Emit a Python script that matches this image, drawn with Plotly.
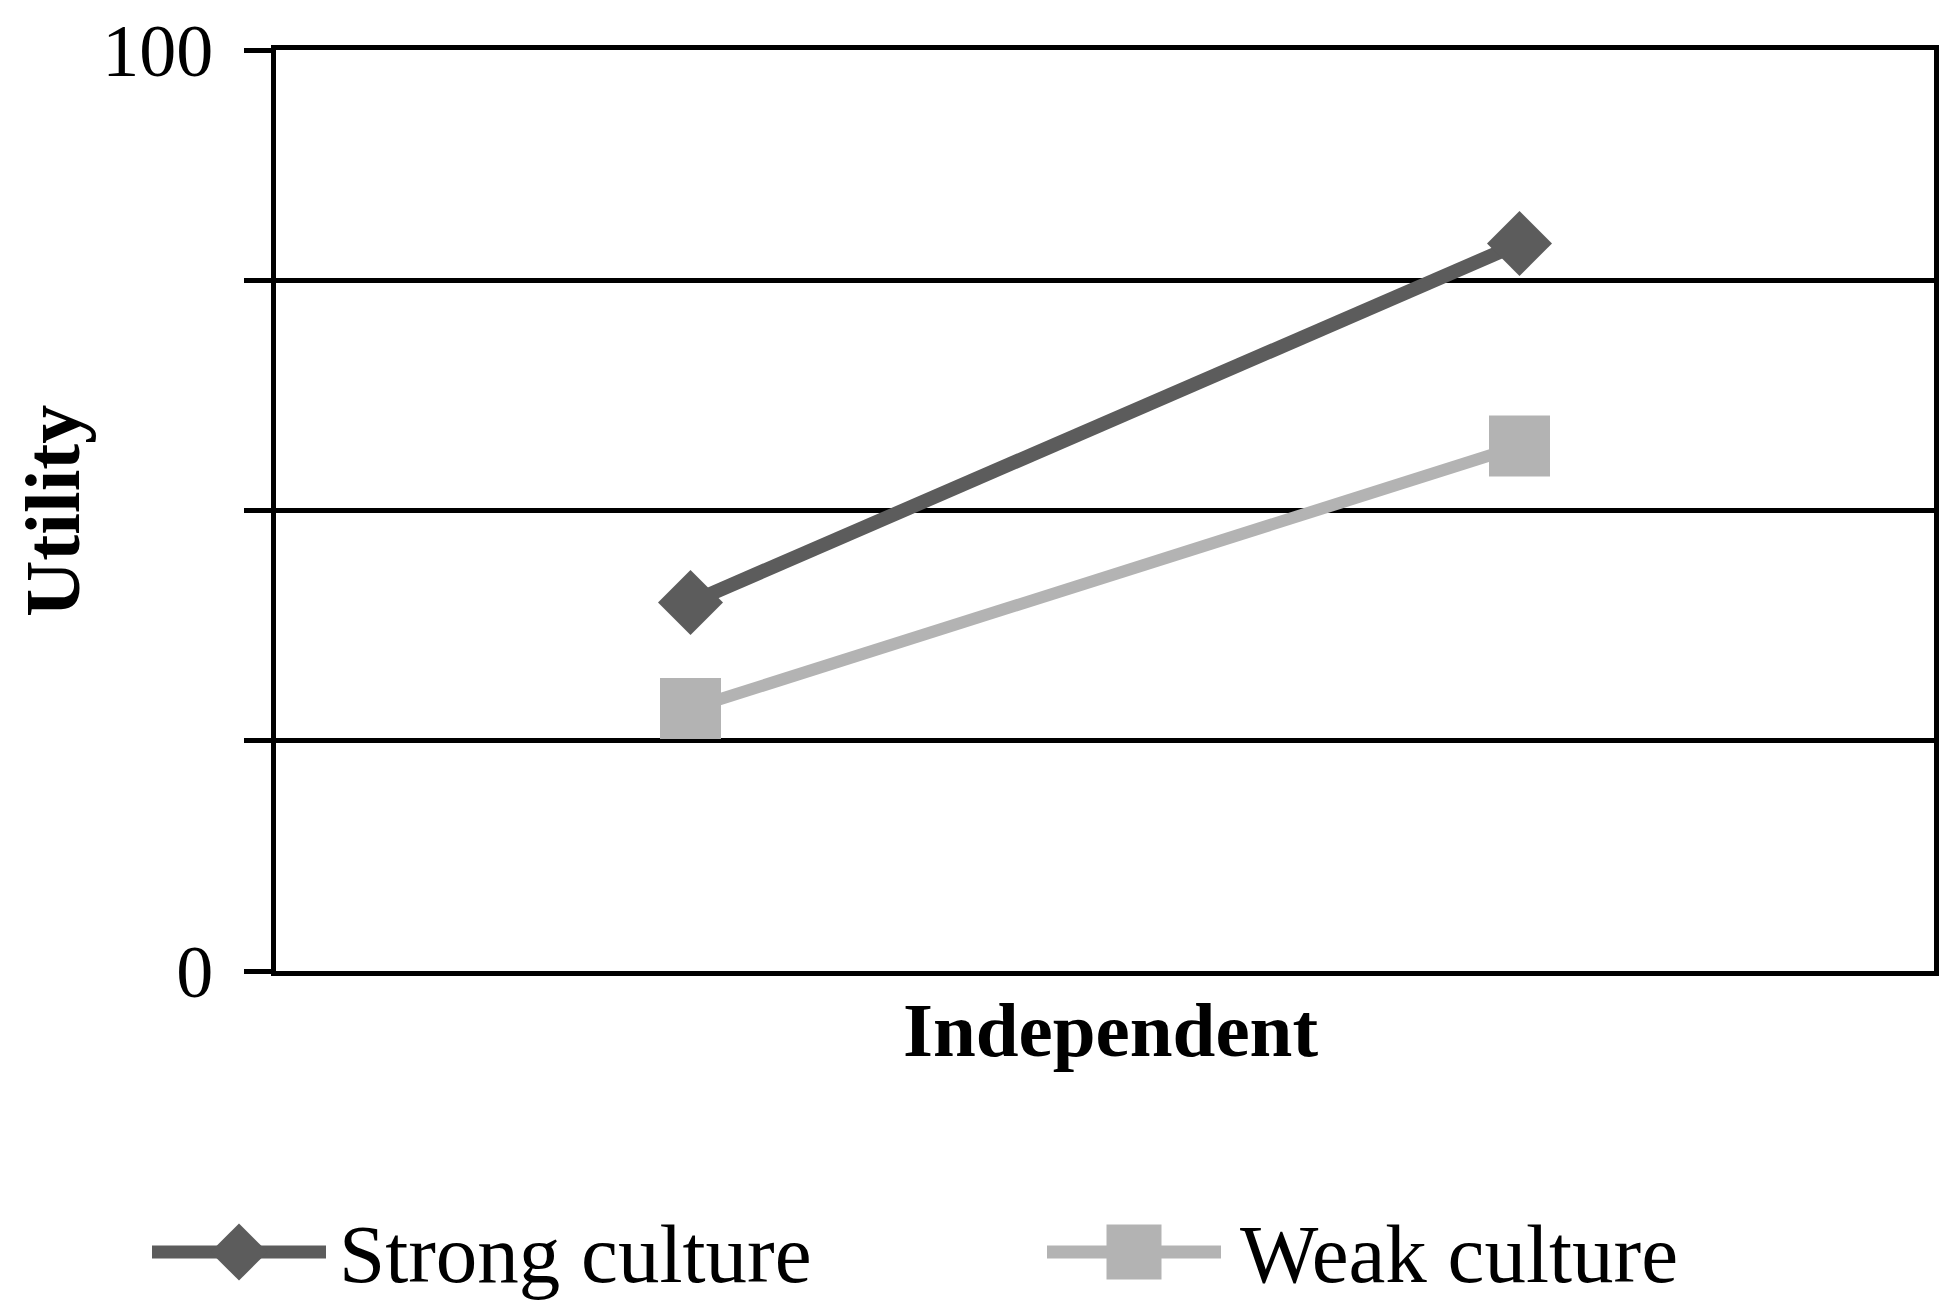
import plotly.graph_objects as go

# ---- data ----
categories = ["Low", "High"]
strong_culture = [40, 79]
weak_culture = [28.5, 57]
y_tickvals = [0, 25, 50, 75, 100]
y_ticktext = ["0", "", "", "", "100"]
series_names = ["Strong culture", "Weak culture"]

W, H = 1954, 1315
OFF = 8  # page body margin
STRONG = "#5c5c5c"
WEAK = "#b3b3b3"
FONT = "Liberation Serif, Times New Roman, serif"

def px_x(p):
    return (p - OFF) / W

def px_y(p):
    return 1 - (p - OFF) / H

plot_l, plot_r, plot_t, plot_b = 276, 1934, 50, 971
leg_top = 1160  # top of legend band (px)

fig = go.Figure()
fig.add_trace(go.Scatter(
    x=categories, y=strong_culture, mode="lines+markers", name=series_names[0],
    line=dict(color=STRONG, width=14),
    marker=dict(symbol="diamond", size=50, color=STRONG),
    showlegend=False, xaxis="x", yaxis="y"))
fig.add_trace(go.Scatter(
    x=categories, y=weak_culture, mode="lines+markers", name=series_names[1],
    line=dict(color=WEAK, width=12),
    marker=dict(symbol="square", size=61, color=WEAK),
    showlegend=False, xaxis="x", yaxis="y"))

# ---- custom legend drawn on an overlay axis in pixel units ----
legend_items = [
    dict(name=series_names[0], color=STRONG, symbol="diamond", size=44, x0=152, x1=326, tx=337),
    dict(name=series_names[1], color=WEAK, symbol="square", size=55, x0=1047, x1=1221, tx=1238),
]
ly = 1252
for it in legend_items:
    fig.add_trace(go.Scatter(
        x=[it["x0"] - OFF, it["x1"] - OFF], y=[ly - OFF, ly - OFF], mode="lines",
        line=dict(color=it["color"], width=13), showlegend=False,
        xaxis="x2", yaxis="y2", hoverinfo="skip"))
    fig.add_trace(go.Scatter(
        x=[(it["x0"] + it["x1"]) / 2 - OFF], y=[ly - OFF], mode="markers",
        marker=dict(symbol=it["symbol"], size=it["size"], color=it["color"]),
        showlegend=False, xaxis="x2", yaxis="y2", hoverinfo="skip", cliponaxis=False))

annotations = []
for it in legend_items:
    annotations.append(dict(
        text=it["name"], x=px_x(it["tx"]), y=px_y(ly + 2), xref="paper", yref="paper",
        xanchor="left", yanchor="middle", showarrow=False,
        font=dict(family=FONT, size=83, color="black")))
annotations.append(dict(
    text="<b>Independent</b>", x=px_x(1110), y=px_y(1030), xref="paper", yref="paper",
    xanchor="center", yanchor="middle", showarrow=False,
    font=dict(family=FONT, size=77, color="black")))
annotations.append(dict(
    text="<b>Utility</b>", x=px_x(53), y=px_y(511), xref="paper", yref="paper",
    xanchor="center", yanchor="middle", showarrow=False, textangle=-90,
    font=dict(family=FONT, size=78, color="black")))

fig.update_layout(
    width=W, height=H,
    margin=dict(l=0, r=0, t=0, b=0),
    paper_bgcolor="white", plot_bgcolor="rgba(0,0,0,0)",
    showlegend=False,
    xaxis=dict(
        type="category", domain=[px_x(plot_l), px_x(plot_r)], range=[-0.5, 1.5],
        showticklabels=False, showgrid=False, zeroline=False, ticks="",
        showline=True, linecolor="black", linewidth=5, mirror=True, automargin=False),
    yaxis=dict(
        domain=[px_y(plot_b), px_y(plot_t)], range=[0, 100],
        tickvals=y_tickvals, ticktext=y_ticktext,
        tickfont=dict(family=FONT, size=74, color="black"),
        ticklabeloverflow="allow",
        showgrid=True, gridcolor="black", gridwidth=5, zeroline=False,
        ticks="outside", ticklen=27, tickwidth=5, tickcolor="black",
        ticklabelstandoff=16,
        showline=True, linecolor="black", linewidth=5, mirror=True, automargin=False),
    xaxis2=dict(domain=[0, 1], range=[0, W], visible=False, fixedrange=True, anchor="y2"),
    yaxis2=dict(domain=[0, px_y(leg_top)], range=[H, leg_top - OFF], visible=False,
                fixedrange=True, anchor="x2"),
    annotations=annotations,
)

fig.write_html("out.html")
